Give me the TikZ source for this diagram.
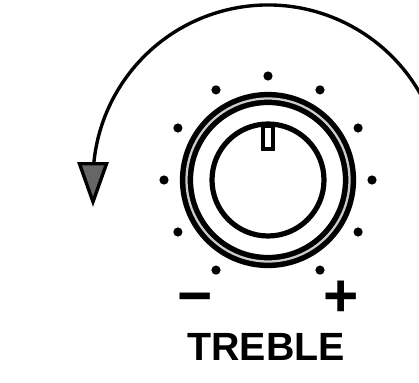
\documentclass[tikz,border=0pt]{standalone}
\usepackage{fontspec}
\setsansfont{Liberation Sans}
\usetikzlibrary{arrows.meta}
\begin{document}
\begin{tikzpicture}[x=0.025cm,y=0.025cm,
  sign/.style={font=\sffamily\bfseries\fontsize{43}{43}\selectfont,inner sep=0pt},
  turn/.style={line width=2.4pt,-{Triangle[length=32pt,width=22pt,fill=black!60]}}]
  \useasboundingbox (-268,-202) rectangle (151,180);
  \clip (-268,-202) rectangle (151,180);
  \draw[turn] (15:175) arc[start angle=15,end angle=180,radius=175] -- ++(0,-27);
  \foreach \a in {-60,-30,...,240}
    \fill (\a:104) circle[radius=4.6];
  \draw[line width=2.2pt,fill=white] (-5,31) rectangle (5,54);
  \draw[line width=9.4pt] (0,0) circle[radius=81.5];
  \draw[line width=1.6pt,black!20] (0,0) circle[radius=81.5];
  \draw[line width=3.7pt] (0,0) circle[radius=56];
  \node[sign] (minus) at (-73,-125) {−};
  \node[sign] (plus) at (73,-119) {+};
  \node[font=\sffamily\bfseries\fontsize{28}{28}\selectfont] (label) at (-2,-167) {TREBLE};
\end{tikzpicture}
\end{document}
